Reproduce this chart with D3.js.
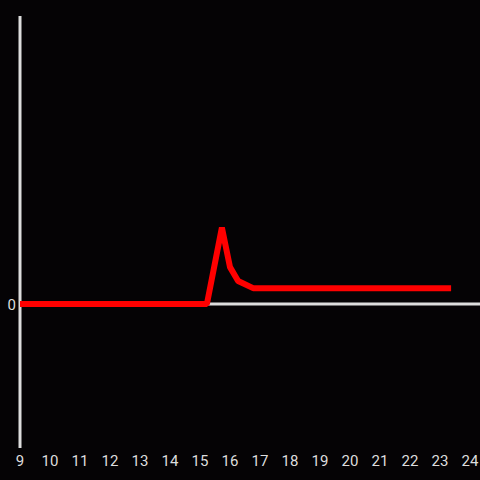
<!DOCTYPE html>
<html><head><meta charset="utf-8">
<script src="https://cdn.jsdelivr.net/npm/d3@7"></script>
<style>html,body{margin:0;padding:0;background:#050305;}svg{display:block;}</style>
</head><body>
<script>
const hours = [9, 15.23, 15.73, 16.0, 16.27, 16.77, 23.37];
const values = [0, 0, 26.5, 12.8, 8, 5.5, 5.5];
const xTicks = [9,10,11,12,13,14,15,16,17,18,19,20,21,22,23,24];
const yTicks = [0];

const W = 480, H = 480;
const svg = d3.select("body").append("svg").attr("width", W).attr("height", H);
svg.append("rect").attr("width", W).attr("height", H).attr("fill", "#050305");

const x = d3.scaleLinear().domain([9, 24]).range([20, 470]);
const y = d3.scaleLinear().domain([-50, 100]).range([448, 16]);

// y axis line
svg.append("line").attr("x1", 20).attr("x2", 20).attr("y1", y(100)).attr("y2", y(-50))
  .attr("stroke", "#dddddd").attr("stroke-width", 3);
// zero line
svg.append("line").attr("x1", 20).attr("x2", W).attr("y1", y(0)).attr("y2", y(0))
  .attr("stroke", "#dddddd").attr("stroke-width", 3);

// x tick labels
svg.selectAll("text.xt").data(xTicks).enter().append("text")
  .attr("x", d => x(d)).attr("y", 466).attr("text-anchor", "middle")
  .attr("fill", "#dddddd").attr("font-family", "Roboto, sans-serif").attr("font-size", 15)
  .text(d => d);
// y tick labels
svg.selectAll("text.yt").data(yTicks).enter().append("text")
  .attr("x", 16).attr("y", y(0) + 5.5).attr("text-anchor", "end")
  .attr("fill", "#dddddd").attr("font-family", "Roboto, sans-serif").attr("font-size", 15)
  .text(d => d);

const line = d3.line().x((d, i) => x(hours[i])).y(d => y(d));
svg.append("path").datum(values).attr("d", line).attr("fill", "none")
  .attr("stroke", "#ff0000").attr("stroke-width", 6).attr("stroke-linejoin", "bevel");
</script>
</body></html>
